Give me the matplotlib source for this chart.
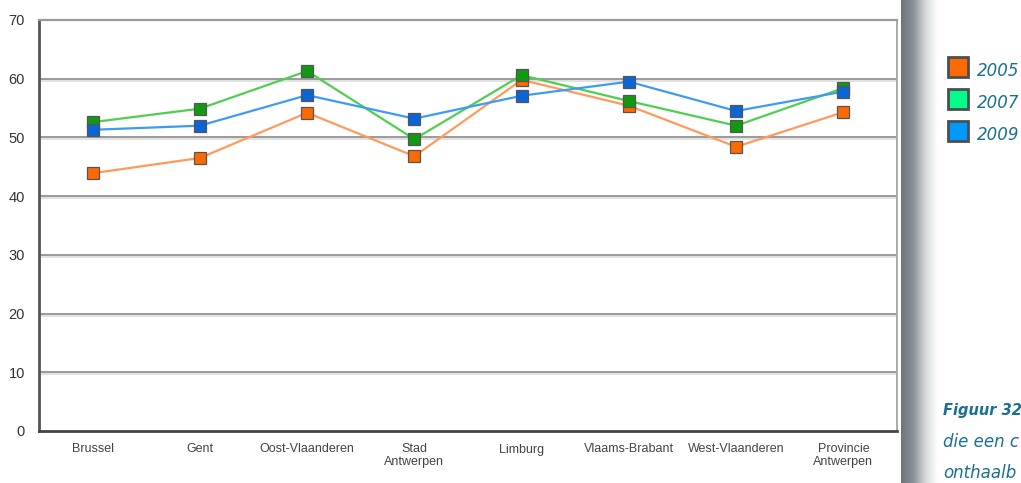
import numpy as np
import matplotlib
import matplotlib.pyplot as plt
from matplotlib.patches import Rectangle
from matplotlib.colors import LinearSegmentedColormap

matplotlib.use("Agg")

categories = ["Brussel", "Gent", "Oost-Vlaanderen", "Stad\nAntwerpen", "Limburg",
              "Vlaams-Brabant", "West-Vlaanderen", "Provincie\nAntwerpen"]
years = ["2005", "2007", "2009"]
v2005 = [43.9, 46.5, 54.2, 46.8, 59.8, 55.4, 48.4, 54.3]
v2007 = [52.6, 54.9, 61.3, 49.7, 60.6, 56.2, 52.0, 58.4]
v2009 = [51.3, 52.0, 57.2, 53.2, 57.1, 59.5, 54.5, 57.8]
yticks = [0, 10, 20, 30, 40, 50, 60, 70]

line_colors = ["#ff9a5c", "#4fcf4f", "#3d9bf0"]
marker_colors = ["#ff6a00", "#119a11", "#0a66d6"]
legend_colors = ["#ff6a00", "#00ff88", "#0099ff"]
caption_color = "#1a6f94"

fig = plt.figure(figsize=(10.21, 4.83), dpi=100)
ax = fig.add_axes([39 / 1021, 52 / 483, 858 / 1021, 411 / 483])

x = np.arange(len(categories))
for vals, lc, mc in zip([v2005, v2007, v2009], line_colors, marker_colors):
    ax.plot(x, vals, color=lc, linewidth=1.6, zorder=3)
    ax.plot(x, vals, linestyle="none", marker="s", markersize=8,
            markerfacecolor=mc, markeredgecolor="#555555", markeredgewidth=0.9, zorder=4)

ax.set_xlim(-0.5, len(categories) - 0.5)
ax.set_ylim(0, 70)
ax.set_yticks(yticks)
ax.set_xticks(x)
ax.set_xticklabels(categories, fontsize=9, color="#444444", family="Liberation Sans",
                   linespacing=1.05, va="top")
ax.tick_params(axis="x", length=0, pad=9)
ax.tick_params(axis="y", length=0, pad=10, labelsize=10.5, labelcolor="#333333")
for lab in ax.get_yticklabels():
    lab.set_family("Liberation Sans")

# grid lines with a light band underneath
for y in yticks[1:-1]:
    ax.axhline(y, color="#9a9a9a", linewidth=1.4, zorder=1)
    ax.axhline(y - 0.35, color="#dddddd", linewidth=1.2, zorder=1)

ax.spines["left"].set_color("#555555")
ax.spines["left"].set_linewidth(2)
ax.spines["bottom"].set_color("#444444")
ax.spines["bottom"].set_linewidth(2)
ax.spines["top"].set_color("#9a9a9a")
ax.spines["top"].set_linewidth(1.6)
ax.spines["right"].set_color("#aaaaaa")
ax.spines["right"].set_linewidth(1.4)

# grey shadow strip right of the chart
shadow = LinearSegmentedColormap.from_list("shadow", ["#6c747c", "#8a9198", "#d6d9dc", "#ffffff"])
grad = np.linspace(0, 1, 200)[None, :]
sax = fig.add_axes([901 / 1021, 0, 36 / 1021, 1])
sax.imshow(grad, aspect="auto", cmap=shadow, extent=[0, 1, 0, 1])
sax.axis("off")

# legend
for i, (yr, col) in enumerate(zip(years, legend_colors)):
    yc = 483 - (67 + 32 * i)
    fig.patches.append(Rectangle((948 / 1021, (yc - 10) / 483), 20 / 1021, 20 / 483,
                                 transform=fig.transFigure, facecolor=col,
                                 edgecolor="#4a4f55", linewidth=2))
    fig.text(977 / 1021, (yc - 4) / 483, yr, fontsize=12, style="italic",
             color=caption_color, family="DejaVu Sans", va="center")

# caption text, partly cut off at the right edge as in the source page
fig.text(943 / 1021, 72 / 483, "Figuur 32", fontsize=10.5, style="italic",
         weight="bold", color=caption_color, family="DejaVu Sans", va="center")
fig.text(943 / 1021, 41 / 483, "die een c", fontsize=12,
         style="italic", color=caption_color, family="DejaVu Sans", va="center")
fig.text(943 / 1021, 10 / 483, "onthaalb", fontsize=12, style="italic",
         color=caption_color, family="DejaVu Sans", va="center")

fig.savefig("out.png", dpi=100)
